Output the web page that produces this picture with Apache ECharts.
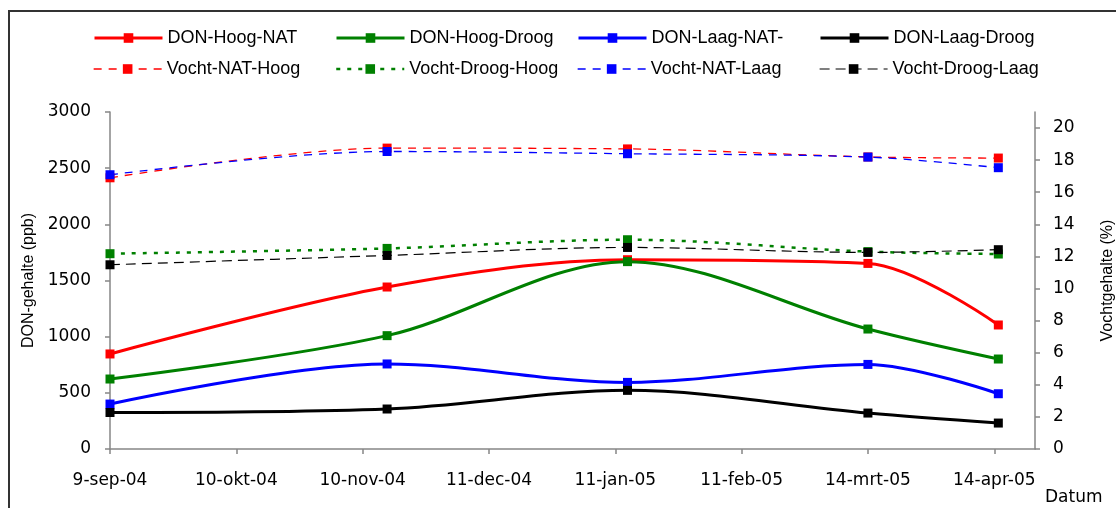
<!DOCTYPE html>
<html>
<head>
<meta charset="utf-8">
<title>DON- en vochtgehalte</title>
<script src="https://cdn.jsdelivr.net/npm/echarts@6.0.0/dist/echarts.min.js"></script>
<style>
  html, body { margin: 0; padding: 0; background: #fff; }
  #chart { width: 1116px; height: 508px; }
</style>
</head>
<body>
<div id="chart"></div>
<script>
// meetdata
const startDate = '2004-09-09'
const sampleDates = ['2004-09-09', '2004-11-16', '2005-01-14', '2005-03-14', '2005-04-15']
const xTickLabels = ['9-sep-04', '10-okt-04', '10-nov-04', '11-dec-04', '11-jan-05', '11-feb-05', '14-mrt-05', '14-apr-05']
const leftTicks = [0, 500, 1000, 1500, 2000, 2500, 3000]
const rightTicks = [0, 2, 4, 6, 8, 10, 12, 14, 16, 18, 20]

// DON-gehalte (ppb)
const donHoogNat = [846, 1442, 1685, 1652, 1104]
const donHoogDroog = [623, 1009, 1668, 1068, 801]
const donLaagNat = [400, 757, 593, 753, 492]
const donLaagDroog = [325, 356, 522, 320, 231]

// Vochtgehalte (%)
const vochtNatHoog = [16.9, 18.75, 18.7, 18.2, 18.13]
const vochtDroogHoog = [12.17, 12.5, 13.04, 12.3, 12.15]
const vochtNatLaag = [17.09, 18.54, 18.4, 18.19, 17.53]
const vochtDroogLaag = [11.48, 12.06, 12.56, 12.25, 12.42]

const DAY = 86400000
const STEP = 31 // dagen tussen de labels
const dayOffset = (s) => (Date.parse(s) - Date.parse(startDate)) / DAY

const lineSeries = (name, values, color, axis, width, dash) => ({
  name,
  type: 'line',
  yAxisIndex: axis,
  data: sampleDates.map((d, i) => [dayOffset(d), values[i]]),
  smooth: 0.33,
  symbol: 'rect',
  symbolSize: 9,
  itemStyle: { color },
  lineStyle: { color, width, type: dash || 'solid' },
  emphasis: { disabled: true }
})

const series = [
  lineSeries('DON-Hoog-NAT', donHoogNat, '#ff0000', 0, 3),
  lineSeries('DON-Hoog-Droog', donHoogDroog, '#008000', 0, 3),
  lineSeries('DON-Laag-NAT-', donLaagNat, '#0000ff', 0, 3),
  lineSeries('DON-Laag-Droog', donLaagDroog, '#000000', 0, 3),
  lineSeries('Vocht-NAT-Hoog', vochtNatHoog, '#ff0000', 1, 1.3, [8, 7]),
  lineSeries('Vocht-Droog-Hoog', vochtDroogHoog, '#008000', 1, 2.5, [4, 7]),
  lineSeries('Vocht-NAT-Laag', vochtNatLaag, '#0000ff', 1, 1.3, [8, 7]),
  lineSeries('Vocht-Droog-Laag', vochtDroogLaag, '#000000', 1, 1.2, [10, 6])
]

// legenda: 2 rijen van 4
const legendLeft = [93, 335, 577, 819]
const legendTop = [29, 60]
const legends = series.map((s, i) => ({
  data: [s.name],
  left: legendLeft[i % 4],
  top: legendTop[Math.floor(i / 4)],
  padding: 0,
  itemWidth: 68,
  itemHeight: 12,
  selectedMode: false,
  lineStyle: { width: s.lineStyle.width },
  textStyle: { fontFamily: 'Liberation Sans', fontSize: 18, color: '#000' }
}))

const axisFont = { fontFamily: 'DejaVu Sans', fontSize: 17, color: '#000' }
const axisLineStyle = { color: '#868686', width: 1.5 }

const chart = echarts.init(document.getElementById('chart'))
chart.setOption({
  animation: false,
  backgroundColor: '#fff',
  graphic: [{
    type: 'rect',
    shape: { x: 9, y: 11, width: 1300, height: 700 },
    style: { fill: 'none', stroke: '#333', lineWidth: 2 },
    silent: true
  }],
  legend: legends,
  grid: { left: 110, right: 81, top: 112, bottom: 59, outerBoundsMode: 'none' },
  xAxis: {
    type: 'value',
    min: 0,
    max: 227,
    interval: STEP,
    name: 'Datum',
    nameLocation: 'end',
    nameGap: 8,
    nameTextStyle: { ...axisFont, align: 'left', verticalAlign: 'top', padding: [40, 0, 0, 2] },
    axisLine: { lineStyle: axisLineStyle },
    axisTick: { length: 5, lineStyle: axisLineStyle, customValues: xTickLabels.map((_, i) => i * STEP) },
    axisLabel: {
      ...axisFont,
      margin: 23,
      customValues: xTickLabels.map((_, i) => i * STEP),
      formatter: (v) => xTickLabels[Math.round(v / STEP)] || ''
    },
    splitLine: { show: false }
  },
  yAxis: [
    {
      type: 'value',
      min: 0,
      max: 3000,
      interval: 500,
      name: 'DON-gehalte (ppb)',
      nameLocation: 'middle',
      nameRotate: 90,
      nameGap: 73,
      nameTextStyle: { fontFamily: 'Liberation Sans', fontSize: 16, color: '#000' },
      axisLine: { show: true, lineStyle: axisLineStyle },
      axisTick: { show: true, length: 5, lineStyle: axisLineStyle, customValues: leftTicks },
      axisLabel: { ...axisFont, margin: 19, customValues: leftTicks, formatter: (v) => String(v) },
      splitLine: { show: false }
    },
    {
      type: 'value',
      position: 'right',
      min: 0,
      max: 21,
      interval: 2,
      name: 'Vochtgehalte (%)',
      nameLocation: 'middle',
      nameRotate: 90,
      nameGap: 65,
      nameTextStyle: { fontFamily: 'Liberation Sans', fontSize: 16, color: '#000' },
      axisLine: { show: true, lineStyle: axisLineStyle },
      axisTick: { show: true, length: 5, lineStyle: axisLineStyle, customValues: rightTicks },
      axisLabel: { ...axisFont, margin: 18, customValues: rightTicks, formatter: (v) => String(v) },
      splitLine: { show: false }
    }
  ],
  series
})
</script>
</body>
</html>
